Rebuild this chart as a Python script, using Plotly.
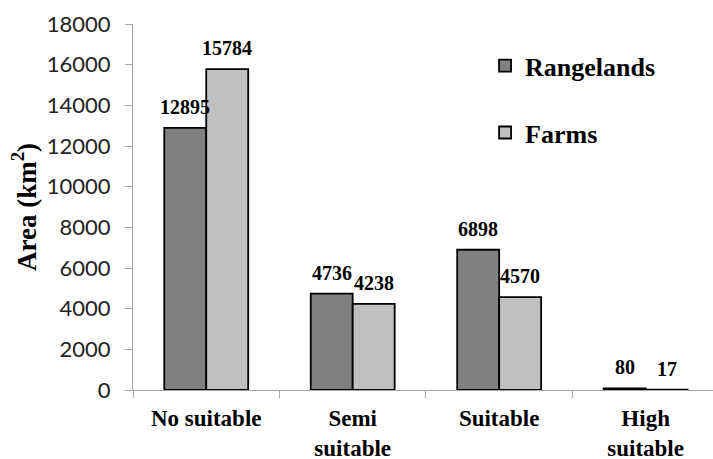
import plotly.graph_objects as go

# Land suitability classes and area (km²) per land use
categories = ["No suitable", "Semi<br>suitable", "Suitable", "High<br>suitable"]
rangelands = [12895, 4736, 6898, 80]
farms = [15784, 4238, 4570, 17]
y_ticks = [0, 2000, 4000, 6000, 8000, 10000, 12000, 14000, 16000, 18000]

SERIF = "Liberation Serif"
AXIS_GRAY = "#a6a6a6"
BAR_SHIFT = 21  # half a bar width in px, used to centre value labels

fig = go.Figure()
fig.add_trace(go.Bar(
    name="<b>Rangelands</b>", x=categories, y=rangelands, legendgroup="r",
    marker=dict(color="#808080", line=dict(color="black", width=1.8)),
))
fig.add_trace(go.Bar(
    name="<b>Farms</b>", x=categories, y=farms, legendgroup="f",
    marker=dict(color="#c0c0c0", line=dict(color="black", width=1.8)),
))

# value labels above each bar
annotations = []
for cat, rv, fv in zip(categories, rangelands, farms):
    for val, shift in ((rv, -BAR_SHIFT), (fv, BAR_SHIFT)):
        annotations.append(dict(
            x=cat, y=val, xref="x", yref="y", text=f"<b>{val}</b>",
            showarrow=False, xshift=shift, yanchor="bottom", yshift=8,
            font=dict(family=SERIF, size=20, color="black"),
        ))

fig.update_layout(
    width=713, height=459,
    margin=dict(l=133, r=0, t=24, b=69),
    paper_bgcolor="white", plot_bgcolor="white",
    barmode="group", bargap=0.427, bargroupgap=0,
    annotations=annotations,
    showlegend=True,
    legend=dict(
        x=0.607, y=0.95, xanchor="left", yanchor="top",
        traceorder="grouped", tracegroupgap=30,
        font=dict(family=SERIF, size=26, color="black"),
        bgcolor="rgba(0,0,0,0)", itemwidth=30,
    ),
    font=dict(color="black"),
)
fig.update_xaxes(
    type="category", range=[-0.5, 3.46], automargin=False,
    showline=True, linecolor=AXIS_GRAY, linewidth=1,
    ticks="outside", tickson="boundaries", ticklen=7, tickcolor=AXIS_GRAY,
    ticklabelstandoff=7,
    tickfont=dict(family=SERIF, size=23, color="black"),
    tickvals=categories, ticktext=[f"<b>{c}</b>" for c in categories],
    showgrid=False,
)
fig.update_yaxes(
    range=[0, 18000], tickvals=y_ticks, tickformat="d", automargin=False,
    showline=True, linecolor=AXIS_GRAY, linewidth=1,
    ticks="outside", ticklen=7, tickcolor=AXIS_GRAY,
    ticklabelstandoff=10,
    tickfont=dict(family="Lato", size=22, color="#222222"),
    showgrid=False, zeroline=False,
    title=dict(text="<b>Area (km<sup>2</sup>)</b>", standoff=2,
               font=dict(family=SERIF, size=27, color="black")),
)

fig.write_html("out.html")
